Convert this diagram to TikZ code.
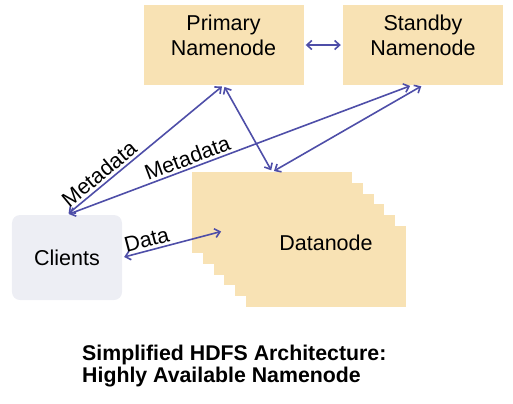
\documentclass[tikz,border=0pt]{standalone}
\usepackage{fontspec}
\setmainfont{Liberation Sans}
\usetikzlibrary{calc}
\usetikzlibrary{arrows.meta}
\definecolor{nodefill}{RGB}{248,226,180}
\definecolor{clientfill}{RGB}{237,238,244}
\definecolor{linkcol}{RGB}{78,78,168}
\newcommand{\nnsizex}{160bp}
\newcommand{\nnsizey}{80bp}
\newcommand{\dnsizex}{160bp}
\newcommand{\dnsizey}{81bp}
\newcommand{\dnstep}{10.7}
\newcommand{\dnxs}{192}
\newcommand{\dnys}{172}
\newcommand{\bigfont}{\fontsize{21.5bp}{24.3bp}\selectfont}
\newcommand{\titlefont}{\fontsize{21.3bp}{21.7bp}\selectfont\bfseries}

\begin{document}
\begin{tikzpicture}[x=1bp,y=-1bp,font=\bigfont,
    nnbox/.style={fill=nodefill,minimum width=\nnsizex,minimum height=\nnsizey,inner sep=0pt},
    dnbox/.style={fill=nodefill,minimum width=\dnsizex,minimum height=\dnsizey,inner sep=0pt,anchor=north west},
    clbox/.style={fill=clientfill,rounded corners=8bp,minimum width=110bp,minimum height=85bp},
    nntext/.style={align=center,inner sep=0pt,anchor=north},
    link/.style={draw=linkcol,line width=1.6bp,
      {Straight Barb[length=5bp,width=9bp]}-{Straight Barb[length=5bp,width=9bp]}},
    lbl/.style={sloped,above,inner sep=2.5bp}]
    \useasboundingbox (0,0) rectangle (513,403);

    % namenodes
    \node[nnbox] (primary) at (223.5,45) {};
    \node[nntext] (primarytxt) at (223.5,15) {Primary\\Namenode};
    \node[nnbox] (standby) at (423,45) {};
    \node[nntext] (standbytxt) at (423,15) {Standby\\Namenode};

    % datanode stack, back to front
    \foreach \i in {5,4,...,0}
      \node[dnbox] (dn\i) at ({\dnxs+\i*\dnstep},{\dnys+\i*\dnstep}) {};
    \node (dntext) at (326,243) {Datanode};
    \coordinate (dnin) at (223,231);

    \node[clbox] (clients) at (67,257.5) {Clients};

    \begin{scope}[shorten <=2bp,shorten >=2bp]
      \draw[link] (primary) -- (standby);
      \draw[link] (clients.north) -- node[lbl,pos=0.25] {Metadata} (primary.south);
      \draw[link] (clients.north) -- node[lbl,pos=0.36] {Metadata}
        ($(standby.south)+(-11,0)$);
      \draw[link] (primary.south) -- (dn0.north);
      \draw[link] (standby.south) -- (dn0.north);
      \draw[link] (clients.east) -- node[lbl,pos=0.27] {Data} (dnin);
    \end{scope}

    \node[anchor=north west,align=left,inner sep=0pt,font=\titlefont] (title)
      at (82,344.7) {Simplified HDFS Architecture:\\Highly Available Namenode};
\end{tikzpicture}
\end{document}
